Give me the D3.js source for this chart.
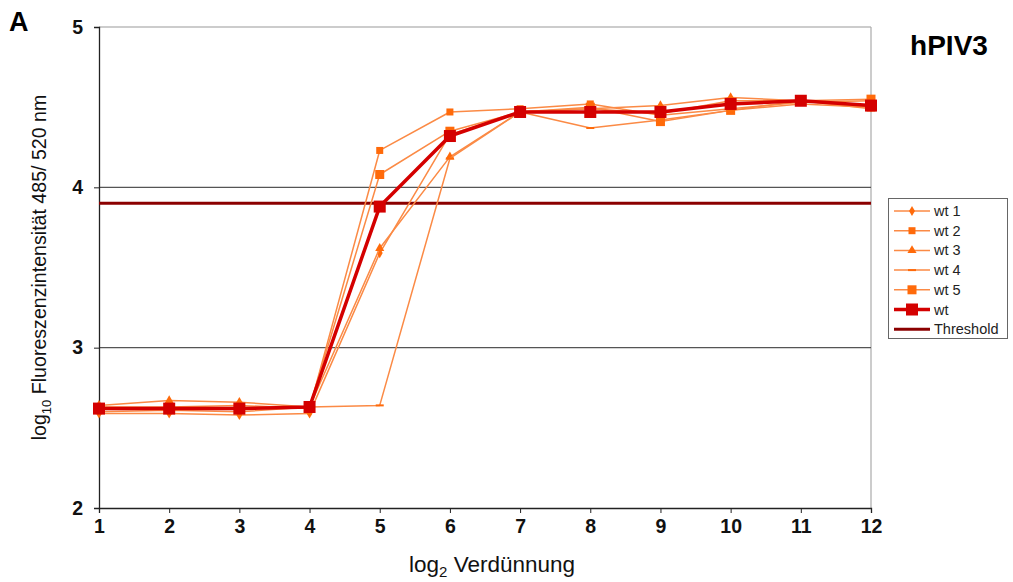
<!DOCTYPE html>
<html>
<head>
<meta charset="utf-8">
<script src="https://cdn.jsdelivr.net/npm/d3@7"></script>
<style>
  body { margin: 0; background: #fff; }
  text { font-family: "Liberation Sans", Arial, sans-serif; }
</style>
</head>
<body>
<script>
// dilution steps (log2)
const dilutions = [1, 2, 3, 4, 5, 6, 7, 8, 9, 10, 11, 12];
const yTicks = [2, 3, 4, 5];

const wt1 = [2.59, 2.59, 2.58, 2.59, 3.59, 4.33, 4.47, 4.49, 4.46, 4.54, 4.54, 4.50];
const wt2 = [2.63, 2.63, 2.64, 2.62, 4.23, 4.47, 4.49, 4.52, 4.45, 4.49, 4.53, 4.54];
const wt3 = [2.64, 2.67, 2.66, 2.63, 3.62, 4.19, 4.47, 4.49, 4.51, 4.56, 4.54, 4.49];
const wt4 = [2.60, 2.61, 2.60, 2.63, 2.64, 4.18, 4.47, 4.37, 4.42, 4.48, 4.52, 4.50];
const wt5 = [2.62, 2.62, 2.62, 2.63, 4.08, 4.35, 4.47, 4.50, 4.41, 4.48, 4.54, 4.55];
const wtMean = [2.62, 2.62, 2.62, 2.63, 3.88, 4.32, 4.47, 4.47, 4.47, 4.52, 4.54, 4.51];
const threshold = 3.90;

const seriesNames = ["wt 1", "wt 2", "wt 3", "wt 4", "wt 5", "wt"];
const seriesValues = [wt1, wt2, wt3, wt4, wt5, wtMean];
const markers = ["diamond", "smallsquare", "triangle", "dash", "square", "bigsquare"];

const W = 1013, H = 582;
const margin = {left: 99, right: 1013 - 871, top: 27, bottom: 582 - 508};

const svg = d3.select("body").append("svg")
    .attr("width", W)
    .attr("height", H);

const x = d3.scaleLinear().domain([1, 12]).range([margin.left, W - margin.right]);
const y = d3.scaleLinear().domain([2, 5]).range([H - margin.bottom, margin.top]);

// frame lines: top + right in grey
svg.append("line")
    .attr("x1", x(1)).attr("x2", x(12))
    .attr("y1", y(5)).attr("y2", y(5))
    .attr("stroke", "#999").attr("stroke-width", 1.2);
svg.append("line")
    .attr("x1", x(12)).attr("x2", x(12))
    .attr("y1", y(5)).attr("y2", y(2))
    .attr("stroke", "#aaa").attr("stroke-width", 1.2);

// gridlines
svg.append("g")
    .selectAll("line")
    .data([3, 4])
    .enter()
    .append("line")
    .attr("x1", x(1)).attr("x2", x(12))
    .attr("y1", d => y(d)).attr("y2", d => y(d))
    .attr("stroke", "#555").attr("stroke-width", 1.1);

// axes
const yAxis = svg.append("g")
    .attr("transform", "translate(" + x(1) + ",0)")
    .call(d3.axisLeft(y).tickValues(yTicks).tickSize(5).tickFormat(d3.format("d")));
const xAxis = svg.append("g")
    .attr("transform", "translate(0," + y(2) + ")")
    .call(d3.axisBottom(x).tickValues(dilutions).tickSize(5).tickFormat(d3.format("d")));

[xAxis, yAxis].forEach(a => {
    a.select(".domain").attr("stroke", "#222").attr("stroke-width", 1.3);
    a.selectAll(".tick line").attr("stroke", "#222");
    a.selectAll(".tick text")
        .attr("fill", "#111")
        .style("font-size", "19.5px")
        .style("font-weight", "bold")
        .style("font-family", "Liberation Sans, Arial, sans-serif");
});
yAxis.selectAll(".tick text").attr("x", -16);
xAxis.selectAll(".tick text").attr("y", 11);

// threshold
svg.append("line")
    .attr("x1", x(1)).attr("x2", x(12))
    .attr("y1", y(threshold)).attr("y2", y(threshold))
    .attr("stroke", "#8b0000").attr("stroke-width", 3);

const lineColor = "#fb8a45";
const markColor = "#ff6a0a";

function drawMarker(g, type, cx, cy, color) {
    if (type === "diamond") {
        g.append("path").attr("d", d3.symbol(d3.symbolDiamond, 30)()).attr("transform", `translate(${cx},${cy})`).attr("fill", color);
    } else if (type === "smallsquare") {
        g.append("rect").attr("x", cx - 3.5).attr("y", cy - 3.5).attr("width", 7).attr("height", 7).attr("fill", color);
    } else if (type === "triangle") {
        g.append("path").attr("d", d3.symbol(d3.symbolTriangle, 36)()).attr("transform", `translate(${cx},${cy})`).attr("fill", color);
    } else if (type === "dash") {
        g.append("rect").attr("x", cx - 4).attr("y", cy - 1).attr("width", 8).attr("height", 2).attr("fill", color);
    } else if (type === "square") {
        g.append("rect").attr("x", cx - 4.5).attr("y", cy - 4.5).attr("width", 9).attr("height", 9).attr("fill", color);
    } else if (type === "bigsquare") {
        g.append("rect").attr("x", cx - 6).attr("y", cy - 6).attr("width", 12).attr("height", 12).attr("fill", color);
    }
}

const line = d3.line().x((d, i) => x(dilutions[i])).y(d => y(d));

seriesValues.forEach((vals, si) => {
    const isMean = si === 5;
    const g = svg.append("g");
    g.append("path")
        .datum(vals)
        .attr("d", line)
        .attr("fill", "none")
        .attr("stroke", isMean ? "#d40000" : lineColor)
        .attr("stroke-width", isMean ? 3.5 : 1.5)
        .attr("stroke-linejoin", "round");
    vals.forEach((v, i) => {
        drawMarker(g, markers[si], x(dilutions[i]), y(v), isMean ? "#d40000" : markColor);
    });
});

// legend
const lg = svg.append("g");
lg.append("rect")
    .attr("x", 888.5).attr("y", 198.5).attr("width", 119).attr("height", 140)
    .attr("fill", "#fff").attr("stroke", "#666").attr("stroke-width", 1);
const legendNames = seriesNames.concat(["Threshold"]);
legendNames.forEach((name, i) => {
    const ly = 211 + i * 19.7;
    const isMean = i === 5, isThr = i === 6;
    lg.append("line")
        .attr("x1", 894).attr("x2", 930)
        .attr("y1", ly).attr("y2", ly)
        .attr("stroke", isThr ? "#8b0000" : isMean ? "#d40000" : lineColor)
        .attr("stroke-width", isThr ? 3 : isMean ? 3.5 : 1.5);
    if (!isThr) drawMarker(lg, markers[i], 912, ly, isMean ? "#d40000" : markColor);
    lg.append("text")
        .attr("x", 934).attr("y", ly + 5)
        .style("font-size", "14.5px")
        .attr("fill", "#222")
        .text(name);
});

// titles
const yt = svg.append("text")
    .attr("transform", "translate(46," + ((y(5) + y(2)) / 2) + ") rotate(-90)")
    .attr("text-anchor", "middle")
    .style("font-size", "19.6px")
    .attr("fill", "#111");
yt.append("tspan").text("log");
yt.append("tspan").attr("dy", 5).style("font-size", "13px").text("10");
yt.append("tspan").attr("dy", -5).text(" Fluoreszenzintensität 485/ 520 nm");

const xt = svg.append("text")
    .attr("x", 492).attr("y", 572)
    .attr("text-anchor", "middle")
    .style("font-size", "22.5px")
    .attr("fill", "#111");
xt.append("tspan").text("log");
xt.append("tspan").attr("dy", 5).style("font-size", "15px").text("2");
xt.append("tspan").attr("dy", -5).text(" Verdünnung");

svg.append("text")
    .attr("x", 9).attr("y", 31)
    .style("font-size", "27px").style("font-weight", "bold")
    .attr("fill", "#000")
    .text("A");

svg.append("text")
    .attr("x", 949).attr("y", 55)
    .attr("text-anchor", "middle")
    .style("font-size", "28px").style("font-weight", "bold")
    .attr("fill", "#000")
    .text("hPIV3");
</script>
</body>
</html>
